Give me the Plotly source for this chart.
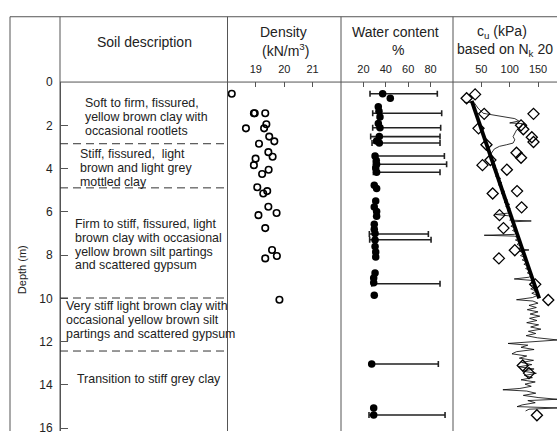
import plotly.graph_objects as go

W, H = 557, 435

# ---------------- data ----------------
# Density (kN/m3) vs depth (m)
dens_depth = [0.54, 1.44, 1.44, 1.44, 2.14, 2.14, 1.95, 2.52, 2.74, 2.85, 3.24, 3.45, 3.54,
              3.84, 4.05, 4.25, 4.86, 5.04, 5.15, 5.76, 6.05, 6.15, 6.75, 7.76, 8.04, 8.15, 10.06]
dens_value = [18.15, 18.93, 18.96, 19.33, 18.65, 19.29, 19.37, 19.47, 19.65, 19.11, 19.44, 19.59, 18.99,
              18.93, 19.45, 19.22, 19.05, 19.40, 19.26, 19.44, 19.73, 19.09, 19.33, 19.57, 19.74, 19.33, 19.83]

# Natural water content (%)
wc_depth = [0.54, 0.75, 1.14, 1.35, 1.62, 1.92, 2.11, 2.52, 2.72, 2.82, 3.42, 3.62, 3.80, 3.97, 4.17,
            4.77, 4.92, 5.50, 5.77, 5.98, 6.20, 6.57, 6.80, 7.00, 7.30, 7.60, 7.85, 8.08,
            8.82, 9.05, 9.27, 9.85, 13.03, 15.06, 15.39]
wc_value = [37.2, 44.0, 33.3, 33.9, 34.8, 33.3, 34.8, 34.2, 31.8, 34.2, 30.4, 31.5, 31.8, 31.0, 31.8,
            29.7, 31.8, 31.0, 29.7, 31.8, 31.8, 29.7, 29.7, 30.4, 30.4, 30.4, 31.0, 31.0,
            30.4, 29.2, 29.2, 29.7, 27.4, 29.2, 29.2]

# Plastic limit / liquid limit (%)
al_depth = [0.54, 1.44, 2.11, 2.52, 2.82, 3.42, 3.80, 4.17, 7.02, 7.29, 9.32, 13.03, 15.39]
al_pl = [25.9, 28.3, 28.3, 26.5, 27.7, 28.9, 28.9, 28.9, 25.3, 25.6, 27.5, 27.4, 25.0]
al_ll = [86.0, 89.9, 89.0, 88.4, 88.4, 92.3, 94.3, 88.4, 78.0, 80.4, 88.4, 86.9, 92.9]

# Undrained shear strength from tests (kPa)
cu_test_depth = [0.57, 0.75, 1.47, 1.47, 2.00, 2.14, 2.18, 2.55, 2.77, 2.90, 3.27, 3.50, 3.60, 3.84,
                 4.05, 5.04, 5.15, 5.79, 6.15, 6.75, 7.77, 8.15, 9.35, 10.07, 13.10, 13.45, 15.40]
cu_test_value = [39, 24, 55, 142, 120, 45, 124, 139, 142, 59, 112, 120, 66, 52,
                 95, 113, 70, 121, 82, 89, 109, 81, 145, 168, 123, 134, 148]

# Trend line (kPa)
cu_trend_depth = [0.87, 10.0]
cu_trend_value = [33, 152]

# cu from cone profile, Nk = 20 (kPa)
cone_depth = [0.94, 0.94, 1.20, 1.44, 1.47, 1.55, 1.62, 1.69, 1.80, 1.89, 1.92, 2.07, 2.22, 2.37, 2.52,
              2.67, 2.82, 2.90, 2.97, 3.09, 3.27, 3.35, 3.45, 3.55, 3.65, 3.75, 3.85, 3.95, 4.05,
              4.15, 4.25, 4.35, 4.45, 4.55, 4.65, 4.75, 4.85, 4.95, 5.05, 5.15, 5.25, 5.35, 5.45,
              5.55, 5.65, 5.75, 5.85, 5.95, 6.05, 6.12, 6.18, 6.28, 6.38, 6.42, 6.46, 6.56, 6.66,
              6.76, 6.86, 6.96, 7.04, 7.08, 7.12, 7.20, 7.30, 7.40, 7.50, 7.60, 7.70, 7.76, 7.82,
              7.92, 8.02, 8.12, 8.22, 8.32, 8.42, 8.52, 8.62, 8.72, 8.82, 8.92, 9.02, 9.10, 9.16,
              9.26, 9.36, 9.46, 9.56, 9.66, 9.76, 9.86, 9.96, 10.06, 10.12, 10.22, 10.32, 10.42,
              10.52, 10.62, 10.72, 10.82, 10.92, 11.02, 11.12, 11.22, 11.32, 11.42, 11.52, 11.62,
              11.72, 11.82, 11.92, 12.00, 12.08, 12.16, 12.26, 12.36, 12.46, 12.56, 12.66, 12.76,
              12.86, 12.96, 13.06, 13.16, 13.26, 13.36, 13.46, 13.56, 13.66, 13.76, 13.86, 13.96,
              14.06, 14.16, 14.22, 14.28, 14.38, 14.48, 14.58, 14.66, 14.72, 14.82, 14.92, 15.00,
              15.06, 15.12, 15.20]
cone_value = [20, 37, 44, 53, 59, 80, 97, 109, 116, 100, 122, 120, 112, 109, 106,
              109, 106, 94, 82, 73, 68, 66, 71, 65, 72, 68, 75, 70, 78,
              73, 80, 75, 84, 78, 86, 80, 88, 83, 91, 85, 93, 88, 96,
              90, 100, 93, 101, 96, 100, 75, 98, 104, 100, 138, 103, 108, 102,
              111, 105, 113, 108, 55, 108, 116, 110, 119, 113, 121, 116, 134, 118,
              125, 119, 128, 122, 131, 125, 134, 128, 137, 131, 140, 134, 108, 136,
              143, 135, 145, 137, 147, 139, 149, 140, 112, 141, 150, 134, 147,
              131, 150, 136, 153, 135, 148, 130, 151, 137, 155, 133, 146,
              129, 149, 185, 140, 97, 132, 120, 143, 112, 104, 130, 117,
              142, 121, 139, 116, 143, 123, 147, 126, 140, 120, 145, 127,
              138, 118, 88, 130, 146, 124, 150, 184, 132, 145, 122, 113,
              185, 134, 128]

depth_ticks = [0, 2, 4, 6, 8, 10, 12, 14, 16]
dens_ticks = [19, 20, 21]
wc_ticks = [20, 40, 60, 80]
cu_ticks = [50, 100, 150]

layers = [
    (2.85, [(83, 98.5, "Soft to firm, fissured,"), (83, 112.7, "yellow brown clay with"),
            (83, 126.8, "occasional rootlets")]),
    (4.89, [(78, 151.2, "Stiff, fissured,  light"), (78, 165.5, "brown and light grey"),
            (78, 179.5, "mottled clay")]),
    (9.98, [(72.5, 222.7, "Firm to stiff, fissured, light"), (72.5, 236.9, "brown clay with occasional"),
            (72.5, 251.0, "yellow brown silt partings"), (72.5, 265.2, "and scattered gypsum")]),
    (12.43, [(64, 306.7, "Very stiff light brown clay with"), (64, 320.9, "occasional yellow brown silt"),
             (64, 335.1, "partings and scattered gypsum")]),
    (None, [(75, 381.7, "Transition to stiff grey clay")]),
]

# ---------------- layout helpers ----------------
def fx(x):
    return x / W

def fy(y):
    return 1 - y / H

FONT = "Liberation Sans, Arial, sans-serif"
LINE = "#555555"
Y0, Y_BOT = 77.0, 435.0
PX_PER_M = 22.2
depth_max = (Y_BOT - Y0) / PX_PER_M

X_SOIL, X_DEN, X_WC, X_CU = 60, 227.5, 341, 453
cu_max = (W - X_CU) / 0.567

fig = go.Figure()

# density
fig.add_trace(go.Scatter(x=dens_value, y=dens_depth, xaxis="x2", yaxis="y", mode="markers",
                         marker=dict(symbol="circle-open", size=6.5, color="black",
                                     line=dict(width=1.6, color="black")),
                         showlegend=False))

# Atterberg limits
fig.add_trace(go.Scatter(x=al_pl, y=al_depth, xaxis="x3", yaxis="y", mode="markers",
                         marker=dict(size=1, color="rgba(0,0,0,0)"),
                         error_x=dict(type="data", symmetric=False,
                                      array=[l - p for p, l in zip(al_pl, al_ll)],
                                      arrayminus=[0] * len(al_pl),
                                      thickness=1.6, width=3, color="#222222"),
                         showlegend=False))
# natural water content
fig.add_trace(go.Scatter(x=wc_value, y=wc_depth, xaxis="x3", yaxis="y", mode="markers",
                         marker=dict(symbol="circle", size=7.5, color="black"),
                         showlegend=False))

# cu cone profile
fig.add_trace(go.Scatter(x=cone_value, y=cone_depth, xaxis="x4", yaxis="y", mode="lines",
                         line=dict(color="black", width=0.8), showlegend=False))
# trend
fig.add_trace(go.Scatter(x=cu_trend_value, y=cu_trend_depth, xaxis="x4", yaxis="y", mode="lines",
                         line=dict(color="black", width=3.8), showlegend=False))
# test results
fig.add_trace(go.Scatter(x=cu_test_value, y=cu_test_depth, xaxis="x4", yaxis="y", mode="markers",
                         marker=dict(symbol="diamond-open", size=8.5, color="black",
                                     line=dict(width=1.3, color="black")),
                         showlegend=False))

tickfont = dict(family=FONT, size=11, color="#222222")
common_x = dict(side="top", anchor="y", ticks="inside", ticklen=5, tickcolor=LINE,
                showgrid=False, zeroline=False, showline=False, tickfont=tickfont,
                ticklabelstandoff=6, fixedrange=True)

shapes = []
def hline(y, x0, x1, color=LINE):
    shapes.append(dict(type="line", xref="paper", yref="paper", x0=fx(x0), x1=fx(x1), y0=fy(y), y1=fy(y),
                       line=dict(color=color, width=1)))

def vline(x, y0, y1):
    shapes.append(dict(type="line", xref="paper", yref="paper", x0=fx(x), x1=fx(x), y0=fy(y0), y1=fy(y1),
                       line=dict(color=LINE, width=1)))

hline(10, 10, W)
hline(Y0, X_SOIL, W)
vline(10, 10, H)
for xv in (X_SOIL, X_DEN, X_WC, X_CU):
    vline(xv, 10, H)

annotations = []
for bottom, lines in layers:
    if bottom is not None:
        shapes.append(dict(type="line", xref="paper", yref="y", x0=fx(X_SOIL), x1=fx(X_DEN),
                           y0=bottom, y1=bottom, line=dict(color="#333333", width=1, dash="8px,5px")))
    for x0, yy, txt in lines:
        annotations.append(dict(text=txt, x=fx(x0), y=fy(yy), xref="paper", yref="paper",
                                xanchor="left", yanchor="middle", showarrow=False,
                                font=dict(family=FONT, size=12.4, color="#222222")))

head = dict(family=FONT, size=14, color="#222222")
for x0, yy, txt in [(144, 36, "Soil description"), (283, 26, "Density"), (285, 44.5, "(kN/m<sup>3</sup>)"),
                    (395, 26, "Water content"), (397.5, 44.5, "%"),
                    (502, 26, "c<sub>u</sub> (kPa)"), (505, 44.5, "based on N<sub>k</sub> 20")]:
    annotations.append(dict(text=txt, x=fx(x0), y=fy(yy), xref="paper", yref="paper",
                            xanchor="center", yanchor="middle", showarrow=False, font=head))

annotations.append(dict(text="Depth (m)", x=fx(22), y=fy(270), xref="paper", yref="paper",
                        textangle=-90, xanchor="center", yanchor="middle", showarrow=False,
                        font=dict(family=FONT, size=11, color="#222222")))

fig.update_layout(
    width=W, height=H, margin=dict(l=0, r=0, t=0, b=0),
    paper_bgcolor="white", plot_bgcolor="white",
    xaxis=dict(domain=[fx(X_SOIL), fx(X_DEN)], range=[0, 1], visible=False, anchor="y", fixedrange=True),
    xaxis2=dict(domain=[fx(X_DEN), fx(X_WC)], range=[18, 22], tickvals=dens_ticks, **common_x),
    xaxis3=dict(domain=[fx(X_WC), fx(X_CU)], range=[0, 100], tickvals=wc_ticks, **common_x),
    xaxis4=dict(domain=[fx(X_CU), 1], range=[0, cu_max], tickvals=cu_ticks, **common_x),
    yaxis=dict(domain=[0, fy(Y0)], range=[depth_max, 0], tickvals=depth_ticks,
               anchor="free", position=fx(X_SOIL), side="left",
               ticks="inside", ticklen=7, tickcolor=LINE, showline=True, linecolor=LINE,
               showgrid=False, zeroline=False, tickfont=dict(family=FONT, size=12, color="#222222"),
               ticklabelstandoff=5, ticklabeloverflow="allow", fixedrange=True),
    shapes=shapes, annotations=annotations, showlegend=False,
)

fig.write_html(
    "out.html",
    config={"displayModeBar": False, "staticPlot": True},
    post_script=("document.body.style.margin='0';document.body.style.overflow='hidden';"
                 "var d=document.getElementById('{plot_id}');d.style.position='fixed';"
                 "d.style.top='0px';d.style.left='0px';"),
)
